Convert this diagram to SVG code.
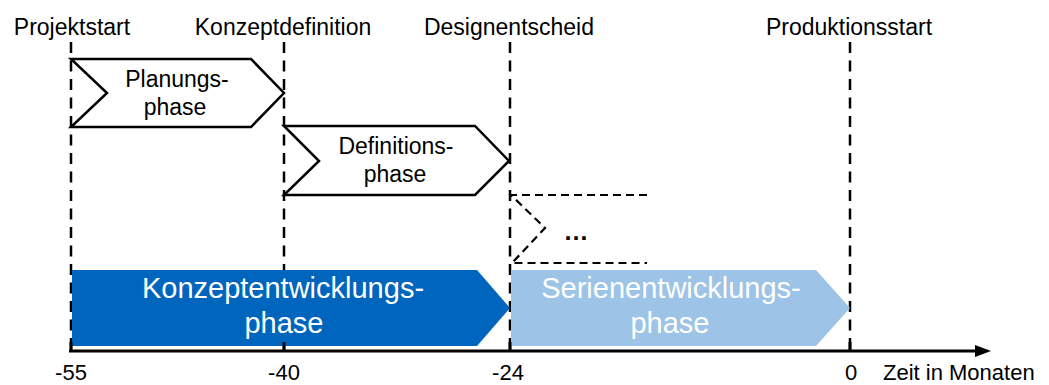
<svg xmlns="http://www.w3.org/2000/svg" width="1049" height="385" viewBox="0 0 1049 385">
  <style>
    text { font-family: "Liberation Sans", Arial, sans-serif; fill: #000; }
    .lbl { font-size: 23px; text-anchor: middle; }
    .tick { font-size: 22px; text-anchor: middle; }
    .big { font-size: 29px; text-anchor: middle; fill: #fff; }
    .milestone { fill: none; stroke: #000; stroke-width: 2.5; stroke-dasharray: 11 7.5; }
    .chev { fill: #fff; stroke: #000; stroke-width: 2.5; stroke-linejoin: miter; }
    .chev-open { fill: none; stroke: #000; stroke-width: 2.2; stroke-dasharray: 8 5; }
    .axis { stroke: #000; stroke-width: 3; fill: none; }
  </style>
  <defs>
    <marker id="arrow" viewBox="0 0 16 12" refX="0" refY="6" markerWidth="16" markerHeight="12" markerUnits="userSpaceOnUse" orient="auto">
      <path d="M0,0 L16,6 L0,12 Z" fill="#000"/>
    </marker>
  </defs>

  <rect width="1049" height="385" fill="#fff"/>

  <!-- milestone guide lines -->
  <g id="connectors">
    <line class="milestone" x1="71" y1="42" x2="71" y2="351"/>
    <line class="milestone" x1="284" y1="42" x2="284" y2="351"/>
    <line class="milestone" x1="510" y1="42" x2="510" y2="351"/>
    <line class="milestone" x1="850" y1="42" x2="850" y2="351"/>
  </g>

  <!-- main phases -->
  <g id="konzeptentwicklung">
    <path d="M72,270 L477,270 L510,308 L477,346 L72,346 Z" fill="#0065BD"/>
    <text class="big" x="283" y="298">Konzeptentwicklungs-</text>
    <text class="big" x="284" y="333">phase</text>
  </g>
  <g id="serienentwicklung">
    <path d="M511,270 L816,270 L850,308 L816,346 L511,346 Z" fill="#9DC3E6"/>
    <text class="big" x="671" y="298">Serienentwicklungs-</text>
    <text class="big" x="670" y="333">phase</text>
  </g>

  <!-- sub-phases -->
  <g id="planung">
    <path class="chev" d="M71,59 L251,59 L284,93 L251,127 L71,127 L107,93 Z"/>
    <text class="lbl" x="177" y="87">Planungs-</text>
    <text class="lbl" x="175" y="115">phase</text>
  </g>
  <g id="definition">
    <path class="chev" d="M284,126 L475,126 L509,161 L475,195 L284,195 L319,161 Z"/>
    <text class="lbl" x="396" y="154">Definitions-</text>
    <text class="lbl" x="395" y="182">phase</text>
  </g>
  <g id="weitere">
    <path class="chev-open" d="M647,195 L511,195 L545,228 L512,263 L647,263"/>
    <text x="576" y="240" style="font-size:25px;font-weight:bold;text-anchor:middle">…</text>
  </g>

  <!-- time axis -->
  <g id="axis">
    <line class="axis" x1="69" y1="351" x2="975" y2="351" marker-end="url(#arrow)"/>
    <line class="axis" x1="71" y1="342" x2="71" y2="351"/>
    <line class="axis" x1="284" y1="342" x2="284" y2="351"/>
    <line class="axis" x1="510" y1="342" x2="510" y2="351"/>
    <line class="axis" x1="850" y1="342" x2="850" y2="351"/>
  </g>

  <!-- milestone labels -->
  <g id="milestones">
    <text class="lbl" x="72" y="35">Projektstart</text>
    <text class="lbl" x="283" y="35">Konzeptdefinition</text>
    <text class="lbl" x="509" y="35">Designentscheid</text>
    <text class="lbl" x="849" y="35">Produktionsstart</text>
  </g>

  <!-- axis labels -->
  <g id="ticks">
    <text class="tick" x="71" y="380">-55</text>
    <text class="tick" x="284" y="380">-40</text>
    <text class="tick" x="508" y="380">-24</text>
    <text class="tick" x="851" y="380">0</text>
    <text x="883" y="380" style="font-size:22px">Zeit in Monaten</text>
  </g>
</svg>
